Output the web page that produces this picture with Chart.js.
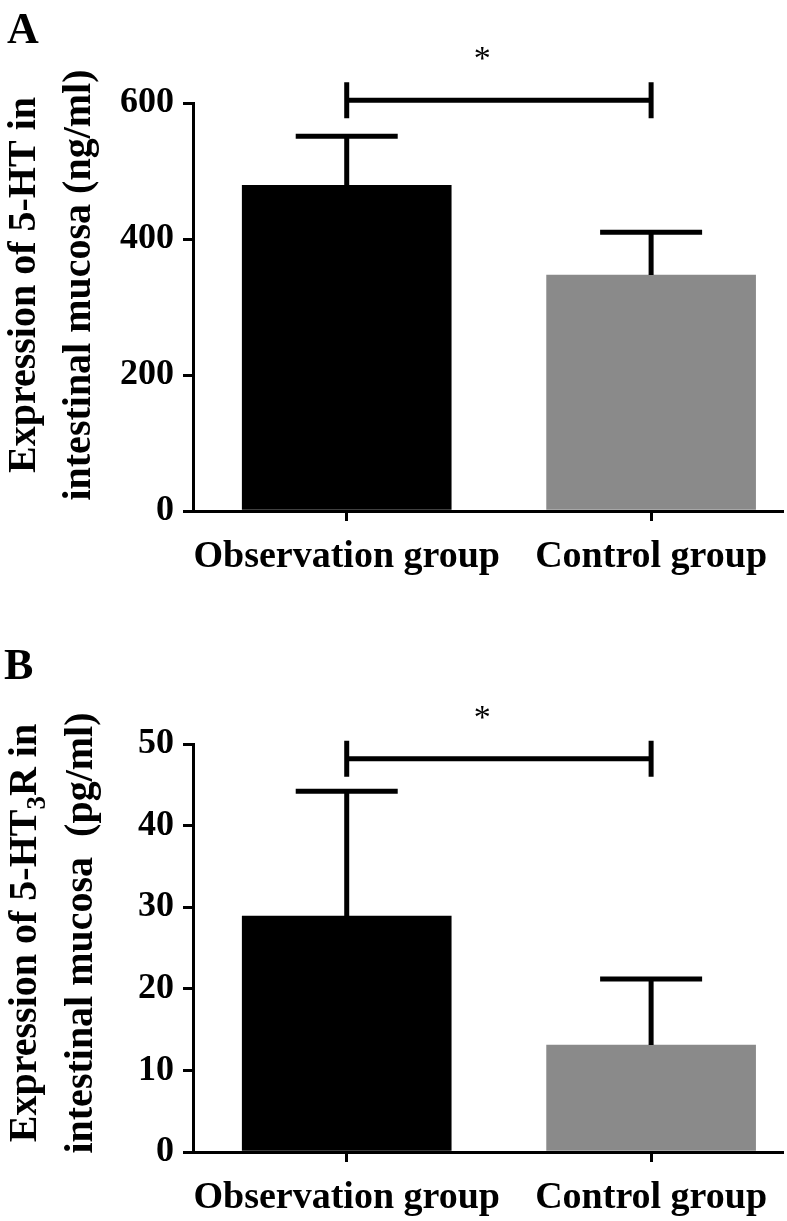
<!DOCTYPE html>
<html>
<head>
<meta charset="utf-8">
<script src="https://cdn.jsdelivr.net/npm/chart.js@4.4.1/dist/chart.umd.min.js"></script>
<style>
  html, body { margin: 0; padding: 0; background: #fff; }
  #wrap { position: relative; width: 787px; height: 1221px; }
  .panel { position: absolute; left: 0; width: 787px; }
</style>
</head>
<body>
<div id="wrap">
  <div class="panel" style="top:0;height:610px"><canvas id="chartA" width="787" height="610"></canvas></div>
  <div class="panel" style="top:610px;height:611px"><canvas id="chartB" width="787" height="611"></canvas></div>
</div>
<script>
// groups and bar fills
const groups = ['Observation group', 'Control group'];
const barColors = ['#000000', '#8a8a8a'];

// panel A: 5-HT (ng/ml), mean and upper SD
const meansA = [479, 347];
const sdA = [72, 63];
const ticksA = [0, 200, 400, 600];
const bracketA = 604;

// panel B: 5-HT3R (pg/ml)
const meansB = [28.9, 13.1];
const sdB = [15.3, 8.1];
const ticksB = [0, 10, 20, 30, 40, 50];
const bracketB = 48.2;

const SERIF = '"Liberation Serif", "Times New Roman", serif';
Chart.defaults.font.family = SERIF;
Chart.defaults.font.weight = 'bold';
Chart.defaults.font.size = 36;
Chart.defaults.color = '#000';

// error bars, significance bracket, titles and panel letter
const extras = {
  id: 'extras',
  afterDatasetsDraw(chart, args, opts) {
    const ctx = chart.ctx;
    const xs = chart.scales.x, ys = chart.scales.y;
    ctx.save();
    ctx.strokeStyle = '#000';
    ctx.lineWidth = 5;
    ctx.lineCap = 'butt';
    opts.means.forEach((m, i) => {
      const cx = xs.getPixelForValue(i);
      const y0 = ys.getPixelForValue(m);
      const y1 = ys.getPixelForValue(m + opts.sd[i]);
      ctx.beginPath();
      ctx.moveTo(cx, y0);
      ctx.lineTo(cx, y1);
      ctx.moveTo(cx - 51, y1);
      ctx.lineTo(cx + 51, y1);
      ctx.stroke();
    });
    // bracket
    const bx0 = xs.getPixelForValue(0), bx1 = xs.getPixelForValue(1);
    const by = ys.getPixelForValue(opts.bracket);
    ctx.beginPath();
    ctx.moveTo(bx0, by); ctx.lineTo(bx1, by);
    ctx.moveTo(bx0, by - 18); ctx.lineTo(bx0, by + 18);
    ctx.moveTo(bx1, by - 18); ctx.lineTo(bx1, by + 18);
    ctx.stroke();
    ctx.font = 'normal 34px ' + SERIF;
    ctx.fillStyle = '#000';
    ctx.textAlign = 'center';
    ctx.textBaseline = 'middle';
    ctx.fillText('*', xs.getPixelForValue(0.445), by - opts.starGap);

    // panel letter
    ctx.font = 'bold 44px ' + SERIF;
    ctx.textAlign = 'left';
    ctx.textBaseline = 'alphabetic';
    ctx.fillText(opts.letter, opts.letterX, opts.letterY);

    // rotated y title, two lines, optional subscript
    ctx.translate(0, opts.titleCenter);
    ctx.rotate(-Math.PI / 2);
    opts.lines.forEach((parts, li) => {
      let w = 0;
      parts.forEach(p => {
        ctx.font = (p.sub ? 'bold 27px ' : 'bold 40px ') + SERIF;
        w += ctx.measureText(p.t).width;
      });
      let x = -w / 2;
      parts.forEach(p => {
        ctx.font = (p.sub ? 'bold 27px ' : 'bold 40px ') + SERIF;
        ctx.fillText(p.t, x, opts.baselines[li] + (p.sub ? 9 : 0));
        x += ctx.measureText(p.t).width;
      });
    });
    ctx.restore();
  }
};

function makeChart(id, means, sd, yTicks, bracket, pad, xHeight, extraOpts) {
  return new Chart(document.getElementById(id), {
    type: 'bar',
    data: {
      datasets: [{
        data: means.map((v, i) => ({ x: i, y: v })),
        backgroundColor: barColors,
        borderWidth: 0,
        barThickness: 209
      }]
    },
    options: {
      responsive: false,
      animation: false,
      events: [],
      layout: { padding: { top: pad.top, right: 5, bottom: 0, left: 0 } },
      plugins: {
        legend: { display: false },
        tooltip: { enabled: false },
        extras: Object.assign({ means: means, sd: sd, bracket: bracket }, extraOpts)
      },
      scales: {
        x: {
          type: 'linear',
          offset: false,
          min: -0.505,
          max: 1.43,
          afterBuildTicks: s => { s.ticks = [{ value: 0 }, { value: 1 }]; },
          afterFit: s => { s.height = xHeight; },
          ticks: { autoSkip: false, maxRotation: 0, padding: 13, font: { size: 38 }, callback: v => groups[v] },
          grid: { offset: false, drawOnChartArea: false, tickLength: 10, lineWidth: 3, color: '#000' },
          border: { display: true, width: 3, color: '#000' }
        },
        y: {
          min: yTicks[0],
          max: yTicks[yTicks.length - 1],
          afterBuildTicks: s => { s.ticks = yTicks.map(v => ({ value: v })); },
          afterFit: s => { s.width = 193; },
          ticks: { padding: 9 },
          grid: { drawOnChartArea: false, tickLength: 10, lineWidth: 3, color: '#000' },
          border: { display: true, width: 3, color: '#000' }
        }
      }
    },
    plugins: [extras]
  });
}

makeChart('chartA', meansA, sdA, ticksA, bracketA, { top: 103 }, 99, {
  letter: 'A', letterX: 7, letterY: 43, starGap: 40,
  titleCenter: 285, baselines: [35, 90],
  lines: [
    [{ t: 'Expression of 5-HT in' }],
    [{ t: 'intestinal mucosa (ng/ml)' }]
  ]
});

makeChart('chartB', meansB, sdB, ticksB, bracketB, { top: 134 }, 69, {
  letter: 'B', letterX: 4, letterY: 69, starGap: 40,
  titleCenter: 323, baselines: [36, 92],
  lines: [
    [{ t: 'Expression of 5-HT' }, { t: '3', sub: true }, { t: 'R in' }],
    [{ t: 'intestinal mucosa  (pg/ml)' }]
  ]
});
</script>
</body>
</html>
